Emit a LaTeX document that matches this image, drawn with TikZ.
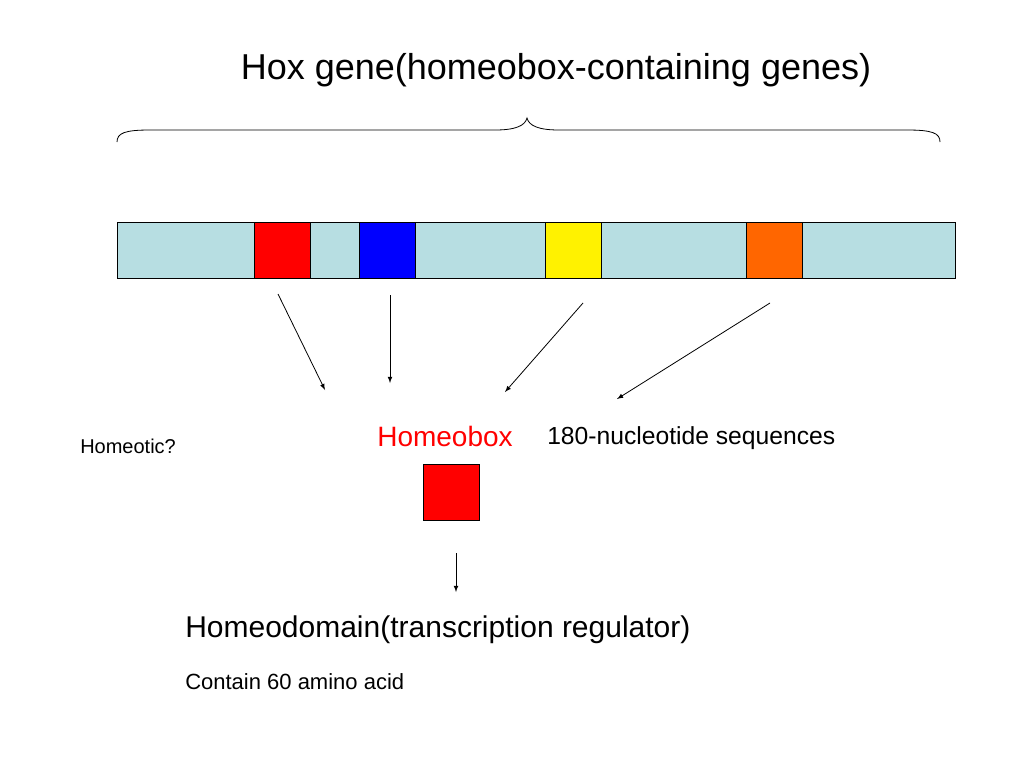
\documentclass[tikz,border=0pt]{standalone}
\usepackage{fontspec}
\setmainfont{Liberation Sans}
\begin{document}
\begin{tikzpicture}[x=0.75pt,y=-0.75pt,
  seg/.style={draw=black,line width=0.6pt,minimum width=42pt,minimum height=42pt,inner sep=0pt,anchor=north west},
  arr/.style={-latex,line width=0.6pt},
  txt/.style={inner sep=0pt}]
\useasboundingbox (0,0) rectangle (1024,768);
\definecolor{barblue}{RGB}{183,222,226}
\definecolor{myorange}{RGB}{255,102,0}
\node[draw=black,line width=0.6pt,fill=barblue,minimum width=628.5pt,minimum height=42pt,inner sep=0pt,anchor=north west] (bar) at (117,222) {};
\node[seg,fill=red] (r) at (254,222) {};
\node[seg,fill=blue] (b) at (359,222) {};
\node[seg,fill=yellow] (y) at (545,222) {};
\node[seg,fill=myorange] (o) at (746,222) {};
\node[txt,font=\fontsize{27}{32}\selectfont] (title) at (556,70) {Hox gene(homeobox-containing genes)};
\draw[line width=0.6pt] (117,142) .. controls (117,133) and (125,130) .. (150,130) -- (495,130) .. controls (515,130) and (525,126) .. (527,118) .. controls (529,126) and (539,130) .. (559,130) -- (907,130) .. controls (932,130) and (940,133) .. (940,142);
\node[txt,font=\fontsize{21}{25}\selectfont,text=red] (hb) at (445,436) {Homeobox};
\node[txt,font=\fontsize{18.5}{22}\selectfont,anchor=west] (nuc) at (547,438) {180-nucleotide sequences};
\node[txt,font=\fontsize{15}{18}\selectfont,anchor=west] (hom) at (80,446) {Homeotic?};
\node[draw=black,line width=0.6pt,fill=red,minimum width=42pt,minimum height=42pt,inner sep=0pt,anchor=north west] (sq) at (423,464) {};
\coordinate (a1s) at (278,294); \coordinate (a1e) at (325,390);
\coordinate (a2s) at (390,295); \coordinate (a2e) at (390,383);
\coordinate (a3s) at (583,303); \coordinate (a3e) at (505,392);
\coordinate (a4s) at (770,303); \coordinate (a4e) at (617,399);
\coordinate (a5s) at (456,553); \coordinate (a5e) at (456,592);
\draw[arr] (a1s) -- (a1e);
\draw[arr] (a2s) -- (a2e);
\draw[arr] (a3s) -- (a3e);
\draw[arr] (a4s) -- (a4e);
\draw[arr] (a5s) -- (a5e);
\node[txt,font=\fontsize{22.5}{27}\selectfont,anchor=west] (hd) at (185,630) {Homeodomain(transcription regulator)};
\node[txt,font=\fontsize{16.5}{20}\selectfont,anchor=west] (aa) at (185,682) {Contain 60 amino acid};
\end{tikzpicture}
\end{document}
